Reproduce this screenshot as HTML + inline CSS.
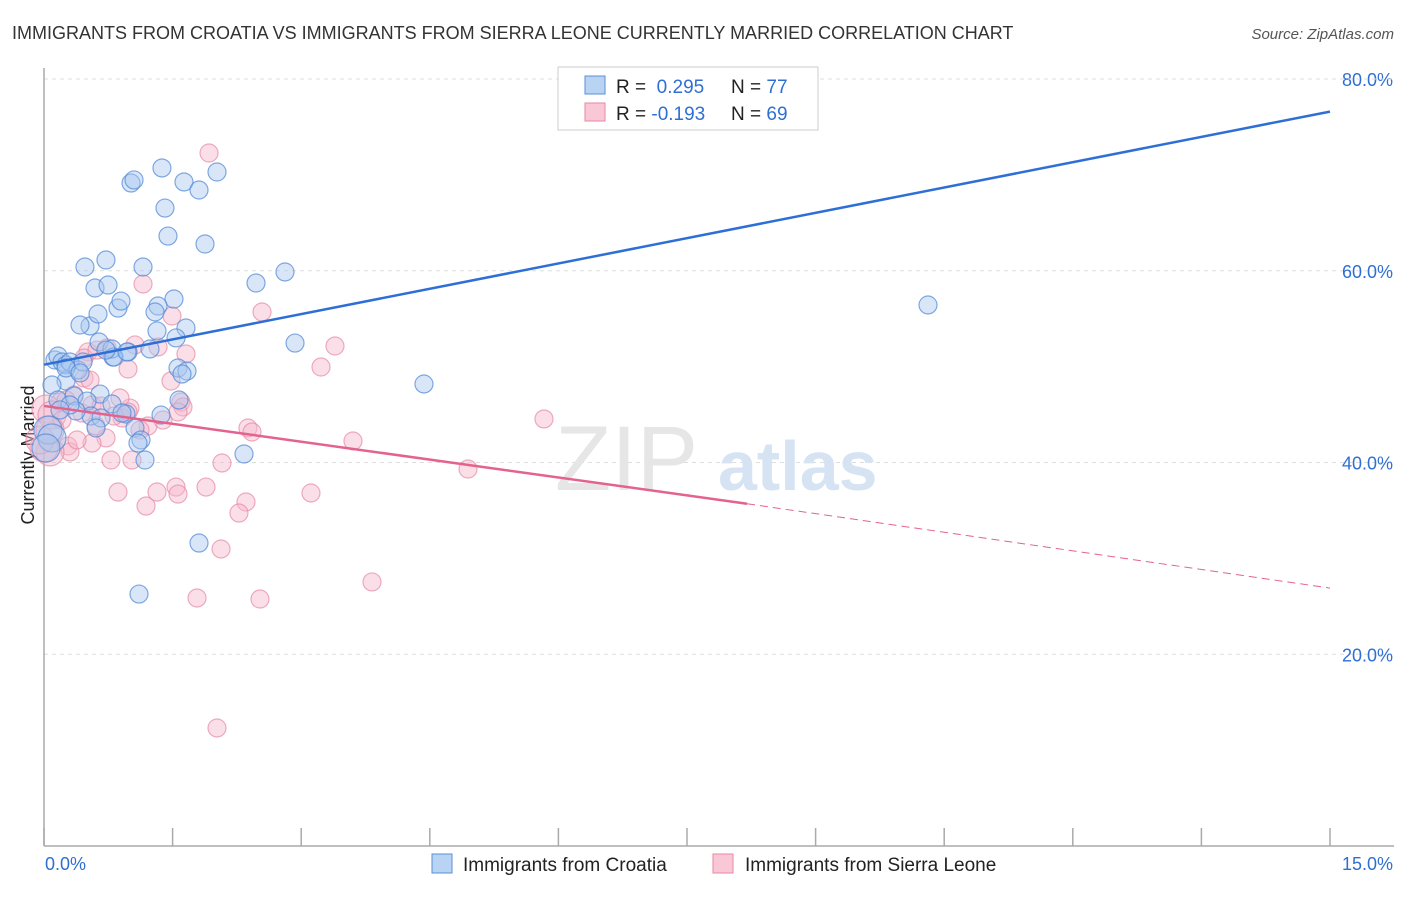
<!DOCTYPE html>
<html><head><meta charset="utf-8"><style>
body{margin:0;background:#fff;font-family:"Liberation Sans",sans-serif;}
svg text{font-family:"Liberation Sans",sans-serif;}
</style></head><body>
<svg id="chart" width="1406" height="892">
<text x="12" y="39" font-size="18" fill="#333">IMMIGRANTS FROM CROATIA VS IMMIGRANTS FROM SIERRA LEONE CURRENTLY MARRIED CORRELATION CHART</text>
<text x="1394" y="39" font-size="15" fill="#555" font-style="italic" text-anchor="end">Source: ZipAtlas.com</text>
<g id="grid"></g>
<text x="555" y="490" font-size="92" fill="#e6e6e6" font-family="Liberation Serif">ZIP</text>
<text x="718" y="490" font-size="70" fill="#d6e3f3" font-weight="bold">atlas</text>
<text transform="translate(34,455) rotate(-90)" font-size="18" fill="#222" text-anchor="middle">Currently Married</text>
<g id="points"></g>
<g id="trends"></g>
<g>
<rect x="558" y="67" width="260" height="63" fill="#fff" stroke="#ccc"/>
<rect x="585" y="76" width="20" height="18" fill="#b9d3f3" stroke="#5b8fd8"/>
<rect x="585" y="103" width="20" height="18" fill="#f9c7d5" stroke="#e58aa5"/>
<text x="616" y="93" font-size="19" fill="#222">R = <tspan fill="#2f6fd3">&#160;0.295</tspan><tspan x="731">N = </tspan><tspan fill="#2f6fd3">77</tspan></text>
<text x="616" y="120" font-size="19" fill="#222">R = <tspan fill="#2f6fd3">-0.193</tspan><tspan x="731">N = </tspan><tspan fill="#2f6fd3">69</tspan></text>
</g>
<g>
<rect x="432" y="854" width="20" height="19" fill="#b9d3f3" stroke="#5b8fd8"/>
<text x="463" y="871" font-size="19" fill="#222">Immigrants from Croatia</text>
<rect x="713" y="854" width="20" height="19" fill="#f9c7d5" stroke="#e58aa5"/>
<text x="745" y="871" font-size="19" fill="#222">Immigrants from Sierra Leone</text>
</g>
</svg>
<script>
const xTicks=[0,1.5,3,4.5,6,7.5,9,10.5,12,13.5,15];
const yTicks=[20,40,60,80];
const yTickLabels=["20.0%","40.0%","60.0%","80.0%"];
const croatiaPx=[[55,360],[58,356],[62,362],[66,365],[70,362],[78,370],[66,381],[52,385],[83,362],[90,326],[80,325],[98,314],[95,288],[108,285],[85,267],[106,260],[118,308],[121,301],[143,267],[131,183],[134,180],[162,168],[184,182],[199,190],[217,172],[165,208],[168,236],[205,244],[256,283],[285,272],[174,299],[158,306],[155,312],[157,331],[186,328],[176,338],[150,349],[128,352],[113,357],[99,342],[112,349],[178,368],[187,371],[182,374],[114,357],[58,400],[74,396],[100,394],[87,401],[91,416],[101,418],[112,404],[126,414],[96,428],[135,428],[141,440],[138,443],[145,460],[161,415],[179,400],[244,454],[199,543],[139,594],[295,343],[424,384],[928,305],[48,430],[52,438],[46,448],[76,411],[70,405],[60,410],[127,352],[106,350],[66,368],[122,413],[80,373]];
const sierraPx=[[209,153],[143,284],[262,312],[172,316],[186,354],[158,347],[135,345],[107,348],[88,352],[84,358],[97,350],[335,346],[321,367],[128,369],[84,378],[171,381],[74,395],[60,402],[46,409],[52,415],[62,420],[82,413],[92,405],[101,406],[130,408],[122,418],[148,426],[163,420],[181,402],[183,407],[178,412],[128,412],[106,438],[92,443],[68,446],[70,452],[50,452],[111,460],[248,428],[252,432],[353,441],[544,419],[468,469],[222,463],[118,492],[146,506],[157,492],[176,487],[178,494],[206,487],[246,502],[239,513],[311,493],[221,549],[197,598],[260,599],[372,582],[217,728],[44,448],[40,440],[66,400],[96,426],[114,416],[132,460],[140,430],[90,380],[77,440],[50,430],[120,398]];
// convert the read pixel estimates into data values (percent)
const croatiaX=croatiaPx.map(p=>+((p[0]-44)/1286*15).toFixed(3));
const croatiaY=croatiaPx.map(p=>+((846-p[1])/767*80).toFixed(2));
const sierraX=sierraPx.map(p=>+((p[0]-44)/1286*15).toFixed(3));
const sierraY=sierraPx.map(p=>+((846-p[1])/767*80).toFixed(2));
const croatiaTrend=[[0,50.2],[15,76.6]];
const sierraTrend=[[0,45.9],[8.2,35.7],[15,26.9]];
const X0=44,X1=1330,YB=846,YT=79;
const sx=v=>X0+(v/15)*(X1-X0);
const sy=v=>YB-(v/80)*(YB-YT);
const NS="http://www.w3.org/2000/svg";
function mk(t,a,p){const e=document.createElementNS(NS,t);for(const k in a)e.setAttribute(k,a[k]);p.appendChild(e);return e;}
const grid=document.getElementById('grid');
yTicks.forEach((v,i)=>{
 const l=mk('line',{x1:X0,x2:1394,y1:sy(v),y2:sy(v),stroke:'#ddd','stroke-dasharray':'4,4'},grid);
 
 
 const t=mk('text',{x:1393,y:sy(v)+7,'font-size':18,fill:'#2f6fd3','text-anchor':'end'},grid);
 t.textContent=yTickLabels[i];
 
 
});
const gt=mk('line',{x1:X0,x2:1394,y1:sy(80),y2:sy(80),stroke:'#ddd','stroke-dasharray':'4,4'},grid);


const ya=mk('line',{x1:X0,x2:X0,y1:68,y2:YB,stroke:'#aaa','stroke-width':1.5},grid);


const xa=mk('line',{x1:X0,x2:1394,y1:YB,y2:YB,stroke:'#aaa','stroke-width':1.5},grid);


xTicks.forEach(v=>{
 const l=mk('line',{x1:sx(v),x2:sx(v),y1:YB,y2:828,stroke:'#aaa','stroke-width':1.5},grid);
 
 
});
const xl=mk('text',{x:45,y:870,'font-size':18,fill:'#2f6fd3'},grid);xl.textContent='0.0%';


const xr=mk('text',{x:1393,y:870,'font-size':18,fill:'#2f6fd3','text-anchor':'end'},grid);xr.textContent='15.0%';


const pts=document.getElementById('points');
function drawSeries(xs,ys,fill,stroke,name){
 xs.forEach((x,i)=>{
  const big=x<0.1&&ys[i]<46&&ys[i]>40;
  const c=mk('circle',{cx:sx(x),cy:sy(ys[i]),r:big?14:9,fill:fill,'fill-opacity':0.45,stroke:stroke,'stroke-opacity':0.7,'stroke-width':1.2},pts);
  
  
 });
}
drawSeries(sierraX,sierraY,'#f7b8cb','#e58aa5','point-sierra-leone');
drawSeries(croatiaX,croatiaY,'#a9c8f0','#4f86d6','point-croatia');
const tr=document.getElementById('trends');
const bl=mk('line',{x1:sx(croatiaTrend[0][0]),y1:sy(croatiaTrend[0][1]),x2:sx(croatiaTrend[1][0]),y2:sy(croatiaTrend[1][1]),stroke:'#2d6fd6','stroke-width':2.5},tr);


const pl=mk('line',{x1:sx(sierraTrend[0][0]),y1:sy(sierraTrend[0][1]),x2:sx(sierraTrend[1][0]),y2:sy(sierraTrend[1][1]),stroke:'#e4638c','stroke-width':2.5},tr);


const pd=mk('line',{x1:sx(sierraTrend[1][0]),y1:sy(sierraTrend[1][1]),x2:sx(sierraTrend[2][0]),y2:sy(sierraTrend[2][1]),stroke:'#e4638c','stroke-width':1,'stroke-dasharray':'8,5'},tr);


</script>
</body></html>
